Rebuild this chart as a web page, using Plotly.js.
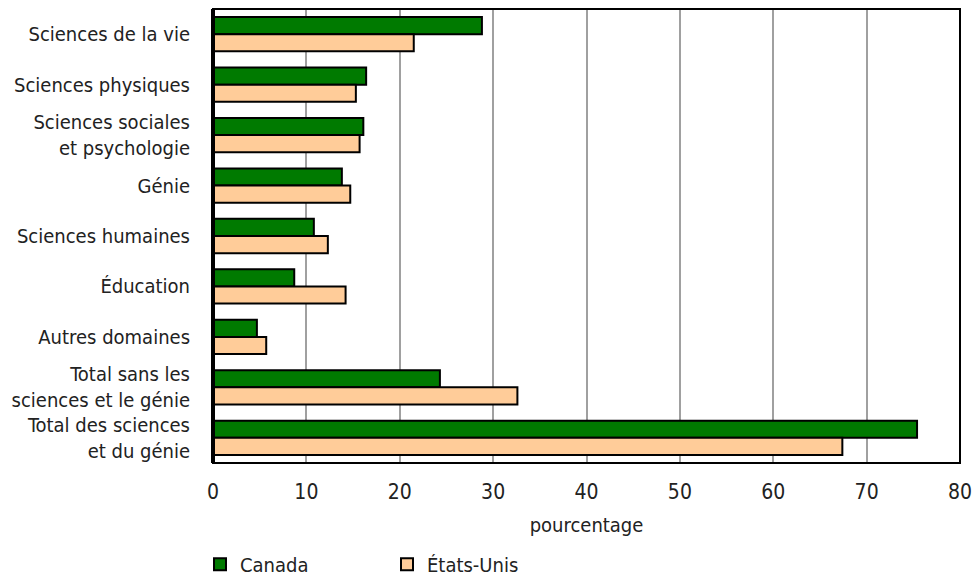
<!DOCTYPE html>
<html>
<head>
<meta charset="utf-8">
<script src="https://cdn.plot.ly/plotly-3.0.1.min.js"></script>
<style>
html,body{margin:0;padding:0;background:#fff;}
#chart{width:976px;height:578px;}
</style>
</head>
<body>
<div id="chart"></div>
<script>
const categories = [
  "Sciences de la vie",
  "Sciences physiques",
  "Sciences sociales<br>et psychologie",
  "Génie",
  "Sciences humaines",
  "Éducation",
  "Autres domaines",
  "Total sans les<br>sciences et le génie",
  "Total des sciences<br>et du génie"
];
const canadaValues = [28.8, 16.4, 16.1, 13.8, 10.8, 8.7, 4.7, 24.3, 75.4];
const usValues = [21.5, 15.3, 15.7, 14.7, 12.3, 14.2, 5.7, 32.6, 67.4];
const seriesNames = ["Canada", "États-Unis"];
const xTicks = [0, 10, 20, 30, 40, 50, 60, 70, 80];

const FONT = "'Liberation Sans Narrow', 'DejaVu Sans Condensed', 'Roboto', sans-serif";

const traces = [
  {
    type: "bar", orientation: "h", name: seriesNames[0],
    y: categories, x: canadaValues,
    marker: {color: "#007a00", line: {color: "#000", width: 2}},
    hoverinfo: "skip"
  },
  {
    type: "bar", orientation: "h", name: seriesNames[1],
    y: categories, x: usValues,
    marker: {color: "#ffcc99", line: {color: "#000", width: 2}},
    hoverinfo: "skip"
  }
];

const layout = {
  width: 976, height: 578,
  margin: {l: 213, r: 16, t: 9, b: 115, autoexpand: false},
  paper_bgcolor: "#fff", plot_bgcolor: "#fff",
  font: {family: FONT, size: 20, color: "#222"},
  barmode: "group",
  bargap: 0.32,
  bargroupgap: 0,
  showlegend: true,
  legend: {
    orientation: "h", xref: "container", yref: "paper",
    x: 200 / 976, xanchor: "left", y: -0.18, yanchor: "top",
    font: {family: FONT, size: 20, color: "#222"},
    entrywidth: 142, entrywidthmode: "pixels", tracegroupgap: 0
  },
  xaxis: {
    range: [0, 80], tickvals: xTicks, ticktext: xTicks.map(String),
    showgrid: true, gridcolor: "#a0a0a0", gridwidth: 2,
    zeroline: false, showline: false, ticks: "",
    ticklabelstandoff: 14,
    tickfont: {family: FONT, size: 21, color: "#222"},
    title: {text: "pourcentage", font: {family: FONT, size: 20, color: "#222"}, standoff: 14}
  },
  yaxis: {
    type: "category", autorange: "reversed",
    showgrid: false, zeroline: false, showline: false, ticks: "",
    ticklabelstandoff: 22,
    tickfont: {family: FONT, size: 20, color: "#222"}
  },
  shapes: [
    {type: "rect", xref: "paper", yref: "paper", x0: 0, x1: 1, y0: 0, y1: 1,
     line: {color: "#000", width: 2}, fillcolor: "rgba(0,0,0,0)", layer: "above"},
    {type: "line", xref: "paper", yref: "paper", x0: 0, x1: 0, y0: 0, y1: 1,
     line: {color: "#000", width: 4}, layer: "above"}
  ]
};

Plotly.newPlot("chart", traces, layout, {displayModeBar: false, staticPlot: true});
</script>
</body>
</html>
